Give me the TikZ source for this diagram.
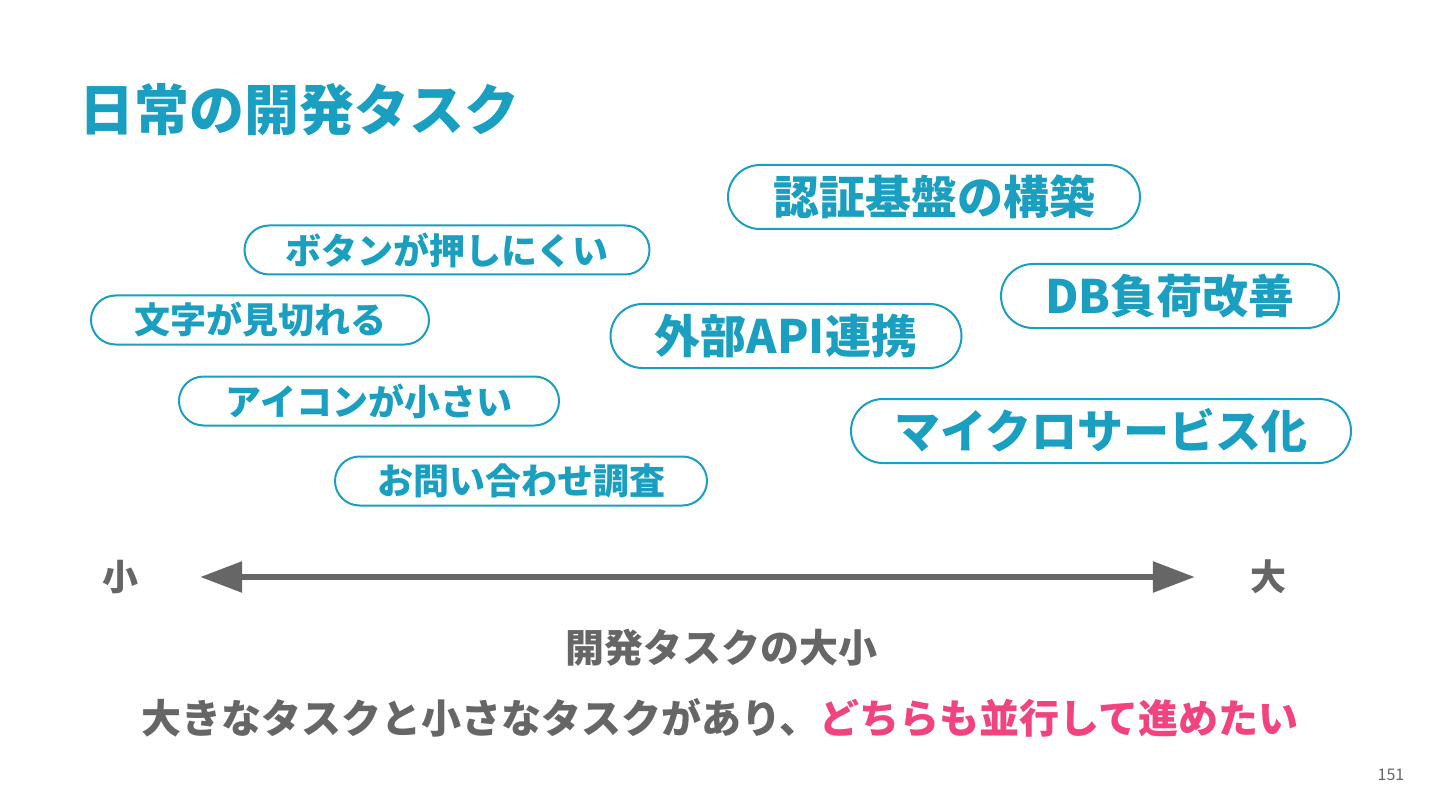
\documentclass[tikz,border=0pt]{standalone}
\usepackage{fontspec}
\setmainfont{Noto Sans CJK JP}
\usetikzlibrary{arrows.meta,positioning,shapes.misc}
\definecolor{accent}{HTML}{1A9FC0}
\definecolor{ink}{HTML}{666666}
\definecolor{hot}{HTML}{F0437F}

\begin{document}
\begin{tikzpicture}[x=1pt,y=-1pt,
 task/.style={rounded rectangle,draw=accent,line width=2pt,fill=white,text=accent,
 inner sep=0pt,minimum height=49pt,font=\bfseries\fontsize{36}{36}\selectfont},
 bigtask/.style={task,minimum height=64pt,font=\bfseries\fontsize{46}{46}\selectfont},
 axtext/.style={text=ink,inner sep=0pt,font=\bfseries\fontsize{36}{36}\selectfont},
 >={Triangle[length=42pt,width=30pt]}]
\useasboundingbox (0,0) rectangle (1440,810);
\node[anchor=west,inner sep=0pt,text=accent,font=\bfseries\fontsize{55}{55}\selectfont] (title) at (79,110) {日常の開発タスク};
\node[bigtask,minimum width=412pt] (auth) at (934,197) {認証基盤の構築};
\node[task,minimum width=405pt] (button) at (447,250) {ボタンが押しにくい};
\node[task,minimum width=338pt] (cut) at (260,320) {文字が見切れる};
\node[bigtask,minimum width=338pt] (db) at (1170,296) {DB負荷改善};
\node[bigtask,minimum width=351pt] (api) at (786,336) {外部API連携};
\node[task,minimum width=380pt] (icon) at (369,401) {アイコンが小さい};
\node[bigtask,minimum width=500pt] (micro) at (1101,431) {マイクロサービス化};
\node[task,minimum width=372pt] (inquiry) at (521,481) {お問い合わせ調査};
\node[axtext] (small) at (120,577) {小};
\node[axtext] (large) at (1268,577) {大};
\draw[<->,ink,line width=6pt,shorten <=62pt,shorten >=55pt] (small.east) -- (large.west);
\node[axtext,font=\bfseries\fontsize{39}{39}\selectfont] (axis) at (721,648) {開発タスクの大小};
\node[axtext,font=\bfseries\fontsize{40}{40}\selectfont] (msg) at (720,718) {大きなタスクと小さなタスクがあり、\textcolor{hot}{どちらも並行して進めたい}};
\node[text=ink,inner sep=0pt,font=\fontsize{16}{16}\selectfont] (page) at (1391,775) {151};
\end{tikzpicture}
\end{document}
